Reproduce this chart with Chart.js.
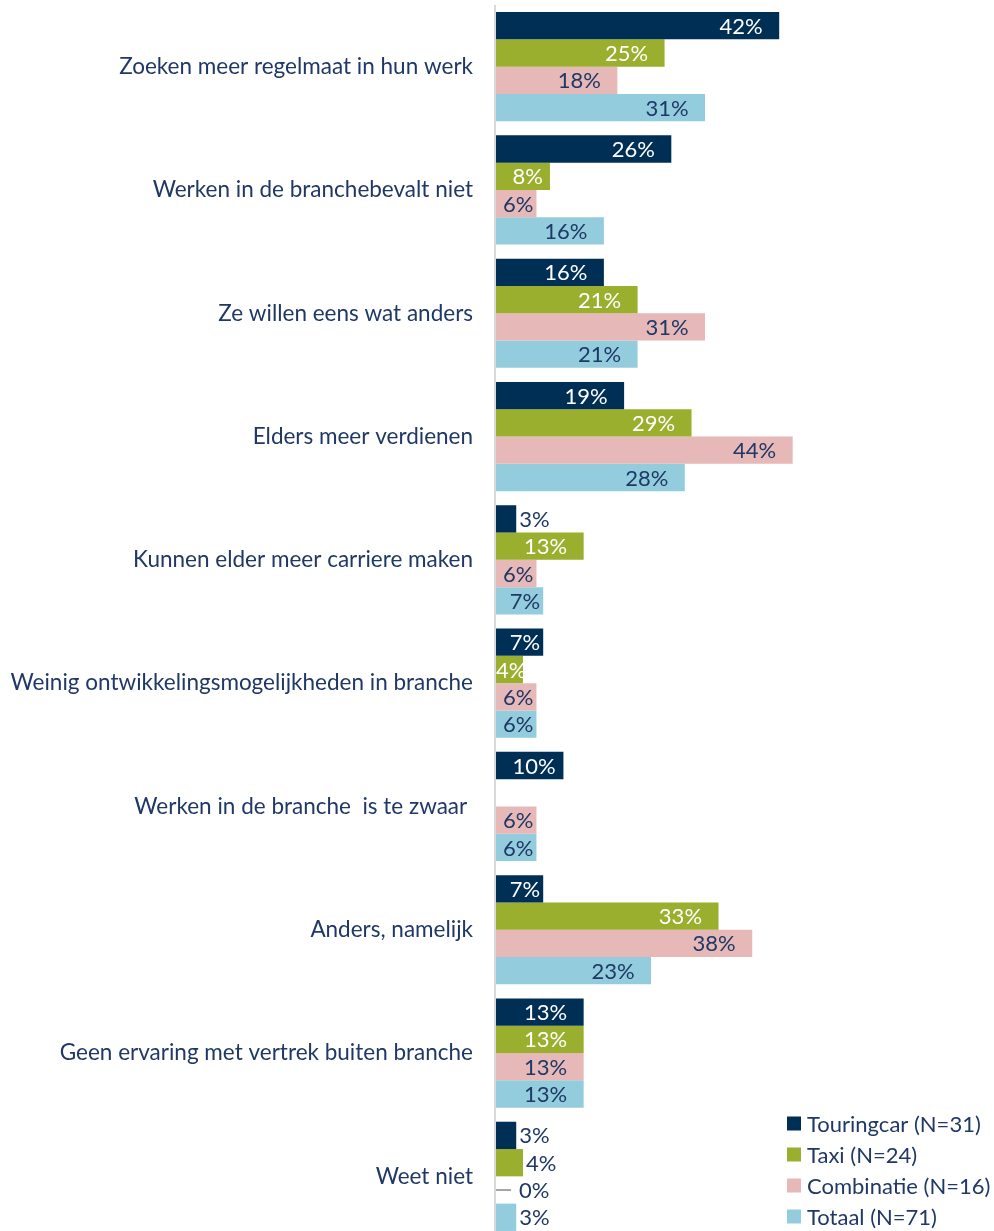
<!DOCTYPE html>
<html>
<head>
<meta charset="utf-8">
<script src="https://cdn.jsdelivr.net/npm/chart.js@4/dist/chart.umd.min.js"></script>
<style>
html,body{margin:0;padding:0;background:#fff;overflow:hidden;width:994px;height:1231px;}
#wrap{width:994px;height:1238px;position:relative;}
</style>
</head>
<body>
<div id="wrap"><canvas id="c" width="994" height="1238"></canvas></div>
<script>
const categories = [
  "Zoeken meer regelmaat in hun werk",
  "Werken in de branchebevalt niet",
  "Ze willen eens wat anders",
  "Elders meer verdienen",
  "Kunnen elder meer carriere maken",
  "Weinig ontwikkelingsmogelijkheden in branche",
  "Werken in de branche  is te zwaar ",
  "Anders, namelijk",
  "Geen ervaring met vertrek buiten branche",
  "Weet niet"
];
const seriesNames = ["Touringcar (N=31)", "Taxi (N=24)", "Combinatie (N=16)", "Totaal (N=71)"];
const touringcar = [42, 26, 16, 19, 3, 7, 10, 7, 13, 3];
const taxi       = [25, 8, 21, 29, 13, 4, null, 33, 13, 4];
const combinatie = [18, 6, 31, 44, 6, 6, 6, 38, 13, 0];
const totaal     = [31, 16, 21, 28, 7, 6, 6, 23, 13, 3];
// labels placed outside the bar end: [categoryIndex, seriesIndex]
const outsideLabels = [[4,0],[9,0],[9,1],[9,2],[9,3]];

const colors = ['#002F56', '#99AF2D', '#E6B8B7', '#93CDDD'];
const textNavy = '#1F3866';
const CAT_FONT = '22.5px Lato';
const LBL_FONT = '22px Lato';
const LEG_FONT = '22px Lato';

const labelPlugin = {
  id: 'customLabels',
  afterDatasetsDraw(chart) {
    const ctx = chart.ctx;
    const area = chart.chartArea;
    ctx.save();
    // axis line
    ctx.fillStyle = '#D9D9D9';
    ctx.fillRect(area.left - 2, area.top, 2, area.bottom - area.top);
    ctx.font = LBL_FONT;
    ctx.textBaseline = 'middle';
    chart.data.datasets.forEach((ds, si) => {
      const meta = chart.getDatasetMeta(si);
      meta.data.forEach((el, ci) => {
        const v = ds.data[ci];
        if (v === null || v === undefined) return;
        const txt = v + '%';
        const w = ctx.measureText(txt).width;
        const end = el.x, y = el.y + 1;
        const outside = outsideLabels.some(p => p[0] === ci && p[1] === si);
        if (v === 0) {
          ctx.strokeStyle = '#A6A6A6';
          ctx.lineWidth = 2;
          ctx.beginPath();
          ctx.moveTo(area.left, el.y);
          ctx.lineTo(area.left + 15, el.y);
          ctx.stroke();
          ctx.fillStyle = textNavy;
          ctx.textAlign = 'left';
          ctx.fillText(txt, area.left + 23, y);
        } else if (outside) {
          ctx.fillStyle = textNavy;
          ctx.textAlign = 'left';
          ctx.fillText(txt, end + 3, y);
        } else {
          let right = Math.min(Math.max(end - 16.5, area.left + 16.5 + w), end - 3);
          right = Math.max(right, area.left + w);
          ctx.fillStyle = si < 2 ? '#FFFFFF' : textNavy;
          ctx.textAlign = 'right';
          ctx.fillText(txt, right, y);
        }
      });
    });
    // category labels
    const yScale = chart.scales.y;
    ctx.font = CAT_FONT;
    ctx.fillStyle = textNavy;
    ctx.textAlign = 'right';
    categories.forEach((c, i) => {
      ctx.fillText(c, 473, yScale.getPixelForValue(i));
    });
    // legend
    ctx.font = LEG_FONT;
    const legendY = [1123.5, 1154.5, 1185.5, 1216.5];
    ctx.textAlign = 'left';
    seriesNames.forEach((n, i) => {
      ctx.fillStyle = colors[i];
      ctx.fillRect(787, legendY[i] - 7, 14, 14);
      ctx.fillStyle = textNavy;
      ctx.fillText(n, 807, legendY[i] + 1);
    });
    ctx.restore();
  }
};

new Chart(document.getElementById('c'), {
  type: 'bar',
  data: {
    labels: categories,
    datasets: [
      { label: seriesNames[0], data: touringcar, backgroundColor: colors[0] },
      { label: seriesNames[1], data: taxi, backgroundColor: colors[1] },
      { label: seriesNames[2], data: combinatie, backgroundColor: colors[2] },
      { label: seriesNames[3], data: totaal, backgroundColor: colors[3] }
    ]
  },
  options: {
    indexAxis: 'y',
    responsive: false,
    animation: false,
    layout: { padding: { left: 496, right: 26, top: 5, bottom: 0 } },
    datasets: { bar: { categoryPercentage: 0.886, barPercentage: 1.0, borderWidth: 0 } },
    scales: {
      x: { display: false, min: 0, max: 70 },
      y: { display: false }
    },
    plugins: { legend: { display: false }, tooltip: { enabled: false } }
  },
  plugins: [labelPlugin]
});
</script>
</body>
</html>
